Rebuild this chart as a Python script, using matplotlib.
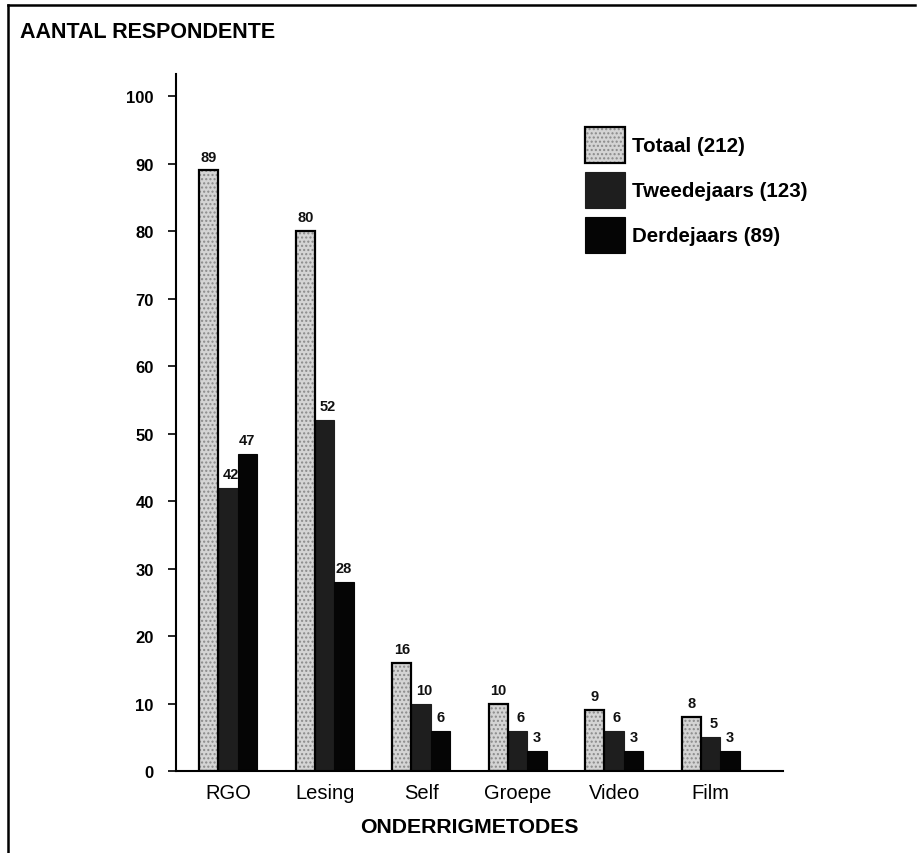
import matplotlib
matplotlib.use("Agg")
import matplotlib.pyplot as plt
from matplotlib.lines import Line2D
import numpy as np

categories = ["RGO", "Lesing", "Self", "Groepe", "Video", "Film"]
totaal = [89, 80, 16, 10, 9, 8]
tweedejaars = [42, 52, 10, 6, 6, 5]
derdejaars = [47, 28, 6, 3, 3, 3]
series_labels = ["Totaal (212)", "Tweedejaars (123)", "Derdejaars (89)"]
yticks = [0, 10, 20, 30, 40, 50, 60, 70, 80, 90, 100]

plt.rcParams['font.family'] = ['Liberation Sans', 'DejaVu Sans']

W, H = 923, 854
fig = plt.figure(figsize=(W / 100, H / 100), dpi=100)
ax = fig.add_axes([176 / W, 1 - 772 / H, (783 - 176) / W, (772 - 75) / H])

x = np.arange(len(categories))
bw = 0.2

# Totaal: light stippled bars with black outline
b1f = ax.bar(x - bw, totaal, bw, color="#d4d4d4", edgecolor="#8a8a8a",
             hatch="....", linewidth=0, zorder=2)
b1e = ax.bar(x - bw, totaal, bw, fill=False, edgecolor="black",
             linewidth=1.6, zorder=3)
b2 = ax.bar(x, tweedejaars, bw, color="#1e1e1e", edgecolor="#1e1e1e",
            linewidth=0.8, zorder=2)
b3 = ax.bar(x + bw, derdejaars, bw, color="#050505", edgecolor="#050505",
            linewidth=0.8, zorder=2)

for xs, vals, dx in [(x - bw, totaal, 0.0), (x, tweedejaars, 0.03), (x + bw, derdejaars, 0.0)]:
    for xi, v in zip(xs, vals):
        ax.annotate(str(v), (xi + dx, v), xytext=(0, 5), textcoords="offset points",
                    ha="center", va="bottom", fontsize=10.5, fontweight="bold",
                    color="#111111")

ax.set_xlim(-0.54, 5.75)
ax.set_ylim(0, 103.3)
ax.set_yticks(yticks)
ax.set_yticklabels([str(t) for t in yticks], fontsize=12, fontweight="bold")
ax.set_xticks(x)
ax.set_xticklabels(categories, fontsize=14.5)
ax.tick_params(axis="x", length=0, pad=9)
ax.tick_params(axis="y", length=6, width=1.2, direction="out", pad=10)
for s in ["top", "right"]:
    ax.spines[s].set_visible(False)
ax.spines["left"].set_linewidth(1.5)
ax.spines["bottom"].set_linewidth(1.5)
ax.set_facecolor("none")

ax.legend([(b1f[0], b1e[0]), b2[0], b3[0]], series_labels,
          loc="upper left", bbox_to_anchor=(585 / W, 1 - 128 / H),
          bbox_transform=fig.transFigure, frameon=False,
          prop={"size": 14.8, "weight": "bold"},
          handlelength=1.95, handleheight=2.3, labelspacing=0.45,
          handletextpad=0.33, borderpad=0, borderaxespad=0)

fig.text(20 / W, 1 - 32 / H, "AANTAL RESPONDENTE", fontsize=15.5,
         fontweight="bold", ha="left", va="center")
fig.text(469 / W, 1 - 828 / H, "ONDERRIGMETODES", fontsize=15.3,
         fontweight="bold", ha="center", va="center")

# page frame
fig.add_artist(Line2D([8 / W, 8 / W], [0, 1 - 6 / H], transform=fig.transFigure,
                      color="black", linewidth=1.8))
fig.add_artist(Line2D([8 / W, 915 / W], [1 - 6 / H, 1 - 6 / H], transform=fig.transFigure,
                      color="black", linewidth=1.8))

fig.savefig("out.png", dpi=100)
